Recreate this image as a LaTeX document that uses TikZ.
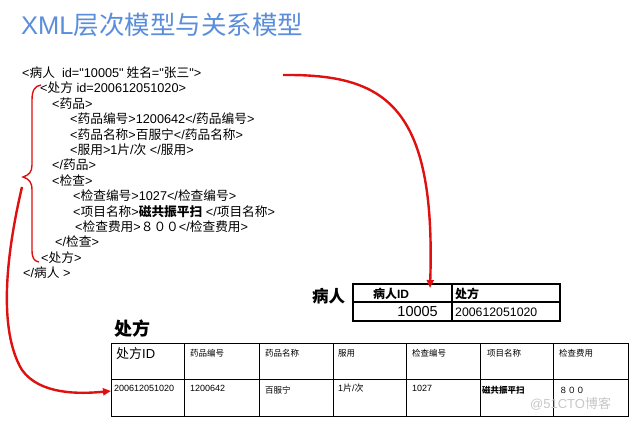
\documentclass[tikz,border=0pt]{standalone}
\usepackage{fontspec}
\setmainfont{Noto Sans CJK SC}
\newfontfamily\lat{Liberation Sans}
\usetikzlibrary{arrows.meta}
\definecolor{ttlblue}{HTML}{5A8EDC}
\definecolor{arrred}{HTML}{E01010}
\begin{document}
\begin{tikzpicture}[x=1pt,y=-1pt,
  xml/.style={anchor=base west,inner sep=0pt,font=\fontsize{12.7}{14}\selectfont},
  cellsm/.style={anchor=base west,inner sep=0pt,font=\fontsize{8.5}{10}\selectfont},
  redarrow/.style={draw=arrred,line width=2.4pt,-{Triangle[length=8pt,width=7pt]}},
  brace/.style={draw=arrred,line width=1.4pt},
  thicktab/.style={draw=black,line width=1.8pt},
  thintab/.style={draw=black,line width=1.3pt},
  gridtab/.style={draw=black,line width=0.9pt}]
\useasboundingbox (0,0) rectangle (638,421);
\fill[white] (0,0) rectangle (638,421);
% title
\node[anchor=base west,inner sep=0pt,text=ttlblue,font=\fontsize{25.5}{28}\selectfont] (title) at (21,34) {{\lat XML}层次模型与关系模型};
% XML lines
\node[xml] (l1) at (22,77.5) {{\lat <}病人{\lat\ \ id="10005"} 姓名{\lat ="}张三{\lat ">}};
\node[xml] (l2) at (40,92.9) {{\lat <}处方{\lat\ id=200612051020>}};
\node[xml] (l3) at (52,108.3) {{\lat <}药品{\lat >}};
\node[xml] (l4) at (70,123.7) {{\lat <}药品编号{\lat >1200642</}药品编号{\lat >}};
\node[xml] (l5) at (70,139.1) {{\lat <}药品名称{\lat >}百服宁{\lat </}药品名称{\lat >}};
\node[xml] (l6) at (70,154.5) {{\lat <}服用{\lat >1}片{\lat /}次{\lat\ </}服用{\lat >}};
\node[xml] (l7) at (52,169.9) {{\lat </}药品{\lat >}};
\node[xml] (l8) at (52,185.3) {{\lat <}检查{\lat >}};
\node[xml] (l9) at (73,200.7) {{\lat <}检查编号{\lat >1027</}检查编号{\lat >}};
\node[xml] (l10) at (73,216.1) {{\lat <}项目名称{\lat >}\textbf{磁共振平扫}{\lat\ </}项目名称{\lat >}};
\node[xml] (l11) at (75,231.5) {{\lat <}检查费用{\lat >}８００{\lat </}检查费用{\lat >}};
\node[xml] (l12) at (55,246.9) {{\lat </}检查{\lat >}};
\node[xml] (l13) at (41,262.3) {{\lat <}处方{\lat >}};
\node[xml] (l14) at (23,277.7) {{\lat </}病人{\lat\ >}};
% brace
\draw[brace] (41,85) .. controls (35,86) and (32,90) .. (32,100) -- (32,165)
  .. controls (32,172) and (29,175) .. (23,177)
  .. controls (29,179) and (32,182) .. (32,190) -- (32,250)
  .. controls (32,258) and (34,261) .. (39,262);
% patient table
\node[anchor=base west,inner sep=0pt,font=\fontsize{16.5}{18}\selectfont\bfseries] (ptlabel) at (312,302) {病人};
\coordinate (pA) at (353,284);
\coordinate (pB) at (560,321);
\draw[thintab] (353,302) -- (560,302);
\draw[thintab] (452,284) -- (452,321);
\draw[thicktab] (pA) rectangle (pB);
\node[anchor=base,inner sep=0pt,font=\fontsize{12}{14}\selectfont\bfseries] (ph1) at (391,298) {病人{\lat ID}};
\node[anchor=base west,inner sep=0pt,font=\fontsize{12}{14}\selectfont\bfseries] (ph2) at (455,298) {处方};
\node[anchor=base east,inner sep=0pt,font=\fontsize{14.5}{16}\selectfont\lat] (pv1) at (438,316.5) {10005};
\node[anchor=base west,inner sep=0pt,font=\fontsize{12.3}{14}\selectfont\lat] (pv2) at (455,316) {200612051020};
% prescription table
\node[anchor=base west,inner sep=0pt,font=\fontsize{18}{20}\selectfont\bfseries] (rxlabel) at (114,335) {处方};
\draw[gridtab] (111,343) rectangle (628,416);
\draw[gridtab] (111,379) -- (628,379);
\foreach \xx in {184,259,333,406,480,553} \draw[gridtab] (\xx,343) -- (\xx,416);
\node[anchor=base west,inner sep=0pt,font=\fontsize{13}{15}\selectfont] (rh1) at (116,358) {处方{\lat ID}};
\node[cellsm] (rh2) at (190,356) {药品编号};
\node[cellsm] (rh3) at (265,356) {药品名称};
\node[cellsm] (rh4) at (338,356) {服用};
\node[cellsm] (rh5) at (412,356) {检查编号};
\node[cellsm] (rh6) at (487,356) {项目名称};
\node[cellsm] (rh7) at (559,356) {检查费用};
\node[cellsm,font=\fontsize{9}{10}\selectfont\lat] (rv1) at (114,391) {200612051020};
\node[cellsm,font=\fontsize{9}{10}\selectfont\lat] (rv2) at (190,391) {1200642};
\node[cellsm] (rv3) at (265,393) {百服宁};
\node[cellsm,font=\fontsize{9}{10}\selectfont] (rv4) at (338,391) {{\lat 1}片{\lat /}次};
\node[cellsm,font=\fontsize{9}{10}\selectfont\lat] (rv5) at (412,391) {1027};
\node[cellsm,font=\fontsize{8.5}{10}\selectfont\bfseries] (rv6) at (482,393) {磁共振平扫};
\node[cellsm] (rv7) at (559,393) {８００};
% watermark
\node[anchor=base west,inner sep=0pt,text=black!22,font=\fontsize{13}{15}\selectfont] (wm) at (530,408) {{\lat @51CTO}博客};
% arrows
\coordinate (s1) at (283,75);
\coordinate (e1) at (430,288);
\draw[redarrow] (s1) .. controls (385,74) and (436,105) .. (e1);
\coordinate (s2) at (22,187);
\coordinate (e2) at (111,391);
\draw[redarrow] (s2) .. controls (6,255) and (-2,330) .. (22,370)
  .. controls (40,395) and (80,394) .. (e2);
\end{tikzpicture}
\end{document}
